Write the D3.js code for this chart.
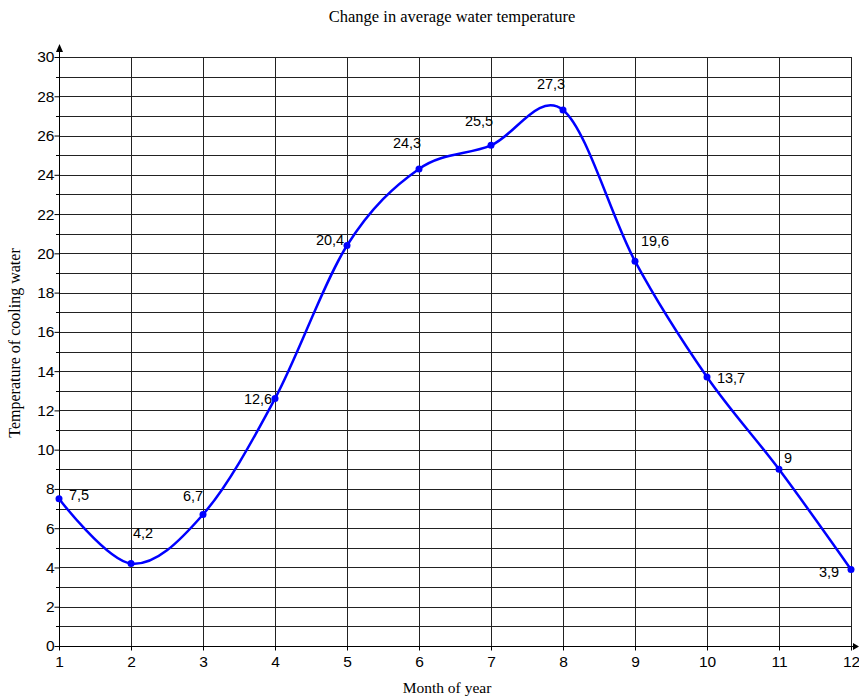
<!DOCTYPE html>
<html><head><meta charset="utf-8">
<script src="https://cdn.jsdelivr.net/npm/d3@7"></script>
<style>body{margin:0;background:#fff}svg{display:block}</style>
</head><body>
<svg id="c" width="859" height="697"></svg>
<script>
const months = [1,2,3,4,5,6,7,8,9,10,11,12];
const temps = [7.5,4.2,6.7,12.6,20.4,24.3,25.5,27.3,19.6,13.7,9,3.9];
const labels = ["7,5","4,2","6,7","12,6","20,4","24,3","25,5","27,3","19,6","13,7","9","3,9"];
const yTicks = [0,2,4,6,8,10,12,14,16,18,20,22,24,26,28,30];
const title = "Change in average water temperature";
const xTitle = "Month of year";
const yTitle = "Temperature of cooling water";

const svg = d3.select("#c");
const x = d3.scaleLinear().domain([1,12]).range([59,851]);
const y = d3.scaleLinear().domain([0,30]).range([646,57]);
const sans = "Liberation Sans, Arial, sans-serif";
const serif = "Liberation Serif, Times New Roman, serif";

// grid
const g = svg.append("g");
g.selectAll("line.h").data(d3.range(1,31)).join("line")
  .attr("x1",x(1)).attr("x2",x(12)).attr("y1",d=>Math.round(y(d))+0.5).attr("y2",d=>Math.round(y(d))+0.5)
  .attr("stroke","#222").attr("stroke-width",1);
g.selectAll("line.v").data(months.slice(1)).join("line")
  .attr("y1",y(0)).attr("y2",y(30)).attr("x1",d=>Math.round(x(d))+0.5).attr("x2",d=>Math.round(x(d))+0.5)
  .attr("stroke","#222").attr("stroke-width",1);

// axes
const yAxis = d3.axisLeft(y).tickValues(yTicks).tickSize(5).tickSizeOuter(0);
const yA = svg.append("g").attr("transform",`translate(${x(1)+0.5},0)`).call(yAxis);
yA.select(".domain").attr("d",`M0,${y(0)}V${y(30)-8}`).attr("stroke","#000");
yA.selectAll("text").attr("font-family",sans).attr("font-size",15.5).attr("fill","#000").attr("x",-5);
svg.append("g").selectAll("line").data(d3.range(1,30,2)).join("line")
  .attr("x1",x(1)-3).attr("x2",x(1)).attr("y1",d=>Math.round(y(d))+0.5).attr("y2",d=>Math.round(y(d))+0.5).attr("stroke","#000");

const xAxis = d3.axisBottom(x).tickValues(months).tickSize(4).tickSizeOuter(0);
const xA = svg.append("g").attr("transform",`translate(0,${Math.round(y(0))+0.5})`).call(xAxis);
xA.select(".domain").attr("d",`M${x(1)},0H${x(12)+4}`).attr("stroke","#000");
xA.selectAll("text").attr("font-family",sans).attr("font-size",15.5).attr("fill","#000").attr("dy","0.85em");

// arrows
svg.append("path").attr("d",`M${x(1)+0.5},${y(30)-13}L${x(1)-3},${y(30)-5}L${x(1)+4},${y(30)-5}Z`).attr("fill","#000");
svg.append("path").attr("d",`M${x(12)+8},${y(0)+0.5}L${x(12)+2},${y(0)-3}L${x(12)+2},${y(0)+4}Z`).attr("fill","#000");

// curve
const data = months.map((m,i)=>({m,t:temps[i],l:labels[i]}));
const line = d3.line().x(d=>x(d.m)).y(d=>y(d.t)).curve(d3.curveCatmullRom.alpha(0));
svg.append("path").datum(data).attr("d",line).attr("fill","none").attr("stroke","#0000ff").attr("stroke-width",2.5);
svg.append("g").selectAll("circle").data(data).join("circle")
  .attr("cx",d=>x(d.m)).attr("cy",d=>y(d.t)).attr("r",3.5).attr("fill","#0000ff");

// labels (offsets)
const offs = [[20,1],[12,-26],[-10,-13],[-17,5],[-17,0],[-12,-21],[-12,-19],[-12,-21],[20,-15],[24,6],[9,-6],[-22,8]];
svg.append("g").selectAll("text").data(data).join("text")
  .attr("x",(d,i)=>x(d.m)+offs[i][0]).attr("y",(d,i)=>y(d.t)+offs[i][1])
  .attr("text-anchor","middle").attr("font-family",sans).attr("font-size",14.5).attr("fill","#000")
  .text(d=>d.l);

// titles
svg.append("text").attr("x",452).attr("y",22).attr("text-anchor","middle")
  .attr("font-family",serif).attr("font-size",16.5).text(title);
svg.append("text").attr("x",447).attr("y",693).attr("text-anchor","middle")
  .attr("font-family",serif).attr("font-size",15.5).text(xTitle);
svg.append("text").attr("transform","translate(20,343) rotate(-90)").attr("text-anchor","middle")
  .attr("font-family",serif).attr("font-size",16).text(yTitle);
</script>
</body></html>
